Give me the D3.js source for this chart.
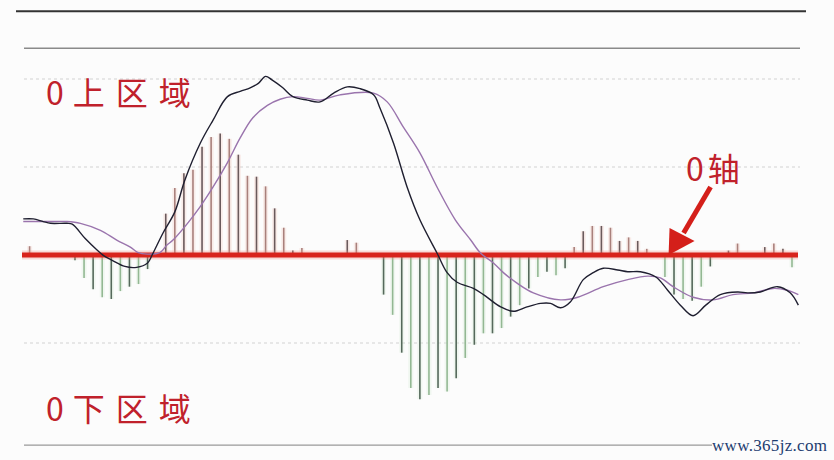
<!DOCTYPE html>
<html>
<head>
<meta charset="utf-8">
<script src="https://cdn.jsdelivr.net/npm/d3@7"></script>
<style>
  html, body { margin: 0; padding: 0; background: #fcfcfc; }
  svg { display: block; }
</style>
</head>
<body>
<svg id="chart" width="834" height="460"></svg>
<script>
// histogram (MACD bars), one value per bar index 0..84
const barValues = [
  0.10, 0, 0, 0, 0, -0.06, -0.26, -0.39, -0.48, -0.50,
  -0.41, -0.36, -0.33, -0.16, 0.02, 0.47, 0.76, 0.93, 0.97, 1.23,
  1.34, 1.38, 1.32, 1.14, 0.90, 0.89, 0.78, 0.53, 0.31, 0.05,
  0.08, 0, 0, 0, 0, 0.17, 0.14, 0, 0, -0.45,
  -0.68, -1.11, -1.51, -1.64, -1.59, -1.51, -1.55, -1.40, -1.17, -1.02,
  -0.89, -0.89, -0.83, -0.70, -0.57, -0.38, -0.25, -0.19, -0.23, -0.15,
  0.09, 0.27, 0.33, 0.33, 0.31, 0.16, 0.20, 0.16, 0.07, 0,
  -0.25, -0.45, -0.50, -0.52, -0.36, -0.13, 0, 0.05, 0.13, 0,
  0, 0.09, 0.13, 0.07, -0.14
]

// fast line (black), positions in bar-index units
const difT = [-0.7, 0.4, 1.5, 2.3, 4.1, 4.7, 6.1, 7.4, 8.2, 9.1,
  10.5, 11.8, 13.0, 13.5, 14.7, 16.0, 17.1, 18.8, 20.2, 21.8,
  23.2, 24.3, 25.2, 26.0, 26.7, 27.9, 29.0, 30.6, 32.0, 33.5,
  35.0, 36.4, 37.9, 38.6, 40.1, 41.6, 43.0, 44.9, 46.0, 47.1,
  48.9, 50.0, 51.9, 53.3, 54.8, 56.3, 57.4, 58.5, 59.6, 61.0,
  62.1, 63.2, 64.8, 65.9, 67.3, 69.0, 70.3, 71.7, 73.1, 74.5,
  76.1, 78.0, 79.1, 80.5, 82.4, 83.8, 84.7]
const difV = [0.41, 0.41, 0.38, 0.36, 0.36, 0.35, 0.19, 0.06, -0.01, -0.06,
  -0.13, -0.14, -0.09, 0.00, 0.25, 0.49, 0.85, 1.27, 1.53, 1.80,
  1.86, 1.90, 1.95, 2.03, 1.99, 1.90, 1.80, 1.76, 1.74, 1.84,
  1.91, 1.89, 1.82, 1.67, 1.27, 0.77, 0.40, 0.02, -0.20, -0.31,
  -0.38, -0.45, -0.59, -0.64, -0.59, -0.55, -0.55, -0.60, -0.53, -0.28,
  -0.20, -0.15, -0.17, -0.19, -0.19, -0.25, -0.40, -0.57, -0.69, -0.57,
  -0.45, -0.42, -0.43, -0.42, -0.36, -0.43, -0.57]

// slow line (purple)
const deaT = [-0.7, 2.2, 4.1, 5.6, 7.8, 9.6, 11.1, 11.9, 13.0, 14.4,
  15.1, 15.8, 17.4, 18.8, 20.2, 21.8, 23.2, 24.6, 26.2, 27.6,
  29.0, 30.6, 32.0, 34.2, 37.9, 39.4, 41.2, 43.0, 44.9, 46.9,
  48.6, 49.7, 51.1, 52.2, 53.7, 55.5, 58.5, 60.4, 63.2, 65.9,
  68.1, 69.5, 70.9, 73.1, 75.3, 77.5, 79.8, 81.9, 83.5, 84.7]
const deaV = [0.38, 0.38, 0.38, 0.36, 0.28, 0.17, 0.09, 0.03, 0.01, 0.03,
  0.11, 0.17, 0.36, 0.55, 0.77, 1.05, 1.33, 1.56, 1.70, 1.77,
  1.80, 1.78, 1.76, 1.82, 1.84, 1.74, 1.45, 1.16, 0.77, 0.40,
  0.17, 0.02, -0.09, -0.20, -0.32, -0.43, -0.51, -0.48, -0.36, -0.28,
  -0.24, -0.26, -0.36, -0.48, -0.51, -0.45, -0.43, -0.38, -0.40, -0.45]

const gridLevels = [2, 1, -1]
const frameLevels = [2.77, 2.35, -2.16]
const labels = [['0', '上区域'], ['0', '下区域']]
const axisLabel = ['0', '轴']
const arrowAt = 70.4
const watermark = 'www.365jz.com'

const svg = d3.select('#chart')

const x = d3.scaleLinear().domain([0, 84]).range([29.6, 792])
const y = d3.scaleLinear().domain([-1, 2]).range([343, 79])

// frame lines
svg.append('line').attr('x1', 16).attr('x2', 806)
  .attr('y1', y(frameLevels[0])).attr('y2', y(frameLevels[0]))
  .attr('stroke', '#333').attr('stroke-width', 2)
svg.append('line').attr('x1', 24).attr('x2', 800)
  .attr('y1', y(frameLevels[1])).attr('y2', y(frameLevels[1]))
  .attr('stroke', '#8a8a8a').attr('stroke-width', 1.5)
svg.append('line').attr('x1', 24).attr('x2', 712)
  .attr('y1', y(frameLevels[2])).attr('y2', y(frameLevels[2]))
  .attr('stroke', '#9a9a9a').attr('stroke-width', 1.2)

// dotted grid
svg.append('g').selectAll('line')
  .data(gridLevels)
  .join('line')
  .attr('x1', 24).attr('x2', 800)
  .attr('y1', d => y(d)).attr('y2', d => y(d))
  .attr('stroke', '#d2d2d2')
  .attr('stroke-width', 1)
  .attr('stroke-dasharray', '3,3')

const bars = barValues.map((v, i) => ({i, v})).filter(d => d.v !== 0)

// bar glow
svg.append('g').selectAll('line')
  .data(bars)
  .join('line')
  .attr('x1', d => x(d.i)).attr('x2', d => x(d.i))
  .attr('y1', y(0)).attr('y2', d => y(d.v))
  .attr('stroke', d => d.v > 0 ? '#f4cfc7' : '#dbeedb')
  .attr('stroke-width', 5)
  .attr('opacity', 0.35)

// bars
svg.append('g').selectAll('line')
  .data(bars)
  .join('line')
  .attr('x1', d => x(d.i)).attr('x2', d => x(d.i))
  .attr('y1', y(0)).attr('y2', d => y(d.v))
  .attr('stroke', d => {
    if (d.v > 0) return d.i % 2 ? '#6a5a5c' : '#a9807c'
    return d.i % 2 ? '#55695b' : '#93b893'
  })
  .attr('stroke-width', 1.6)

// zero axis
svg.append('line').attr('x1', 22).attr('x2', 798)
  .attr('y1', y(0)).attr('y2', y(0))
  .attr('stroke', '#f08a80').attr('stroke-width', 9).attr('opacity', 0.3)
svg.append('line').attr('x1', 22).attr('x2', 798)
  .attr('y1', y(0)).attr('y2', y(0))
  .attr('stroke', '#d8231c').attr('stroke-width', 5)

const line = d3.line()
  .x(d => x(d[0]))
  .y(d => y(d[1]))
  .curve(d3.curveCatmullRom.alpha(0.5))

svg.append('path')
  .datum(deaT.map((t, i) => [t, deaV[i]]))
  .attr('d', line)
  .attr('fill', 'none')
  .attr('stroke', '#9a74ad')
  .attr('stroke-width', 1.4)

svg.append('path')
  .datum(difT.map((t, i) => [t, difV[i]]))
  .attr('d', line)
  .attr('fill', 'none')
  .attr('stroke', '#1f1f30')
  .attr('stroke-width', 1.4)

// arrow pointing at the zero axis
const tipX = x(arrowAt), tipY = y(0)
svg.append('line')
  .attr('x1', tipX + 42).attr('y1', tipY - 68)
  .attr('x2', tipX + 15).attr('y2', tipY - 22)
  .attr('stroke', '#d41f1a').attr('stroke-width', 5)
svg.append('path')
  .attr('d', `M${tipX},${tipY} L${tipX + 1},${tipY - 27} L${tipX + 26},${tipY - 14} Z`)
  .attr('fill', '#d41f1a')

// labels
const labelFont = '"Noto Sans CJK SC", "Noto Sans", sans-serif'
const addLabel = (parts, lx, ly, size, gap, spacing) => {
  const t = svg.append('text')
    .attr('x', lx).attr('y', ly)
    .attr('font-family', labelFont).attr('font-size', size)
    .attr('fill', '#c0212b')
  t.append('tspan').text(parts[0])
  t.append('tspan').attr('dx', gap)
    .attr('letter-spacing', spacing).text(parts[1])
}
addLabel(labels[0], 46, 105, 32, 9, '11px')
addLabel(labels[1], 46, 421, 32, 9, '11px')
addLabel(axisLabel, 686, 181, 32, 4, '0px')

svg.append('text')
  .attr('x', 712).attr('y', 451)
  .attr('font-family', '"Liberation Serif", serif').attr('font-size', 17)
  .attr('textLength', 115)
  .attr('fill', '#1d3d70')
  .text(watermark)
</script>
</body>
</html>
